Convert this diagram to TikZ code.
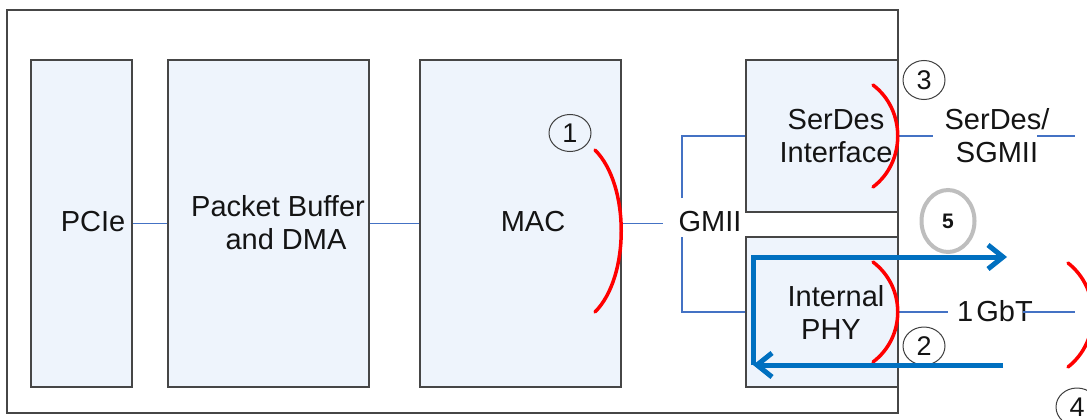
\documentclass[tikz,border=0pt]{standalone}
\usepackage{fontspec}
\setmainfont{Liberation Sans}
\usetikzlibrary{arrows.meta,shapes.geometric}
\definecolor{boxfill}{RGB}{238,244,252}
\definecolor{boxdraw}{RGB}{70,70,70}
\definecolor{thinblue}{RGB}{68,114,196}
\definecolor{thickblue}{RGB}{0,112,192}
\definecolor{grayring}{RGB}{190,190,190}
\definecolor{txt}{RGB}{20,20,20}
\begin{document}
\begin{tikzpicture}[x=1pt,y=-1pt,
  outerbox/.style={draw=boxdraw,line width=1.8pt,fill=white,inner sep=0pt},
  blockbox/.style={draw=boxdraw,line width=2pt,fill=boxfill,inner sep=0pt},
  lbl/.style={font=\fontsize{29}{33}\selectfont,align=center,inner sep=0pt,text=txt},
  link/.style={draw=thinblue,line width=1.3pt},
  redarc/.style={draw=red,line width=3.5pt,line cap=round},
  numring/.style={draw=black!75,line width=1pt,ellipse,inner sep=0pt,
    font=\fontsize{27}{30}\selectfont,text=txt},
  flow/.style={draw=thickblue,line width=5pt,line join=miter,
    -{Straight Barb[length=15pt,width=24pt]}}]
\clip (0,0) rectangle (1087,420);
\fill[white] (0,0) rectangle (1087,420);

% outer frame
\node[outerbox,minimum width=891pt,minimum height=403pt] (outer) at (452.5,211.5) {};

% blocks
\node[blockbox,minimum width=101pt,minimum height=327pt] (pcie) at (81.5,223.5) {};
\node[blockbox,minimum width=201pt,minimum height=327pt] (pbuf) at (268.5,223.5) {};
\node[blockbox,minimum width=201pt,minimum height=327pt] (mac) at (520.5,223.5) {};
\node[blockbox,minimum width=152pt,minimum height=152pt] (serdes) at (822,136) {};
\node[blockbox,minimum width=152pt,minimum height=150pt] (phy) at (822,312) {};

% labels
\node[lbl] (tpcie) at (93,222) {PCIe};
\node[lbl] (tpbuf) at (278,223) {Packet Buffer\\ \hspace*{16pt}and DMA};
\node[lbl] (tmac) at (533,222) {MAC};
\node[lbl] (tgmii) at (710,222) {GMII};
\node[lbl] (tserdes) at (836,136) {SerDes\\Interface};
\node[lbl] (tphy) at (836,312) {Internal\\PHY\hspace*{10pt}};
\node[lbl] (tsgmii) at (997,136) {SerDes/\\SGMII};
\node[lbl] (tgbt) at (995,311) {1\kern3pt GbT};

% connectors
\coordinate (gmL) at (663,223.5);
\coordinate (gtop) at (682,198);
\coordinate (gbot) at (682,237);
\coordinate (sA) at (933,136);
\coordinate (sB) at (1037,136);
\coordinate (sC) at (1075,136);
\coordinate (pA) at (948,312);
\coordinate (pB) at (1023,312);
\coordinate (pC) at (1075,312);
\draw[link] (pcie.east) -- (pbuf.west);
\draw[link] (pbuf.east) -- (mac.west);
\draw[link] (mac.east) -- (gmL);
\draw[link] (gtop) |- (serdes.west);
\draw[link] (gbot) |- (phy.west);
\draw[link] (serdes.east) -- (sA);
\draw[link] (sB) -- (sC);
\draw[link] (phy.east) -- (pA);
\draw[link] (pB) -- (pC);

% red interface arcs
\draw[redarc] (595,150) .. controls (630,185) and (630,277) .. (595,312);
\draw[redarc] (873,85) .. controls (906,110) and (906,162) .. (873,187);
\draw[redarc] (873,262) .. controls (906,287) and (906,337) .. (873,362);
\draw[redarc] (1068,263) .. controls (1101,289) and (1101,341) .. (1068,367);

% numbered rings
\node[numring,minimum width=42pt,minimum height=37pt] (c1) at (570,133) {1};
\node[numring,minimum width=42pt,minimum height=39pt] (c3) at (924,80) {3};
\node[numring,minimum width=42pt,minimum height=38pt] (c2) at (924,346) {2};
\node[numring,minimum width=42pt,minimum height=38pt] (c4) at (1077,407) {4};
\node[draw=grayring,line width=4pt,ellipse,minimum width=53pt,minimum height=62pt,
  inner sep=0pt,font=\bfseries\fontsize{21}{24}\selectfont,text=txt] (c5) at (948,221) {5};

% loopback arrows
\coordinate (lb) at (753,365);
\coordinate (lt) at (753,257);
\coordinate (outR) at (1007,257);
\coordinate (inR) at (1003,365);
\draw[flow] (lb) -- (lt) -- (outR);
\draw[flow] (inR) -- (lb);
\end{tikzpicture}
\end{document}
